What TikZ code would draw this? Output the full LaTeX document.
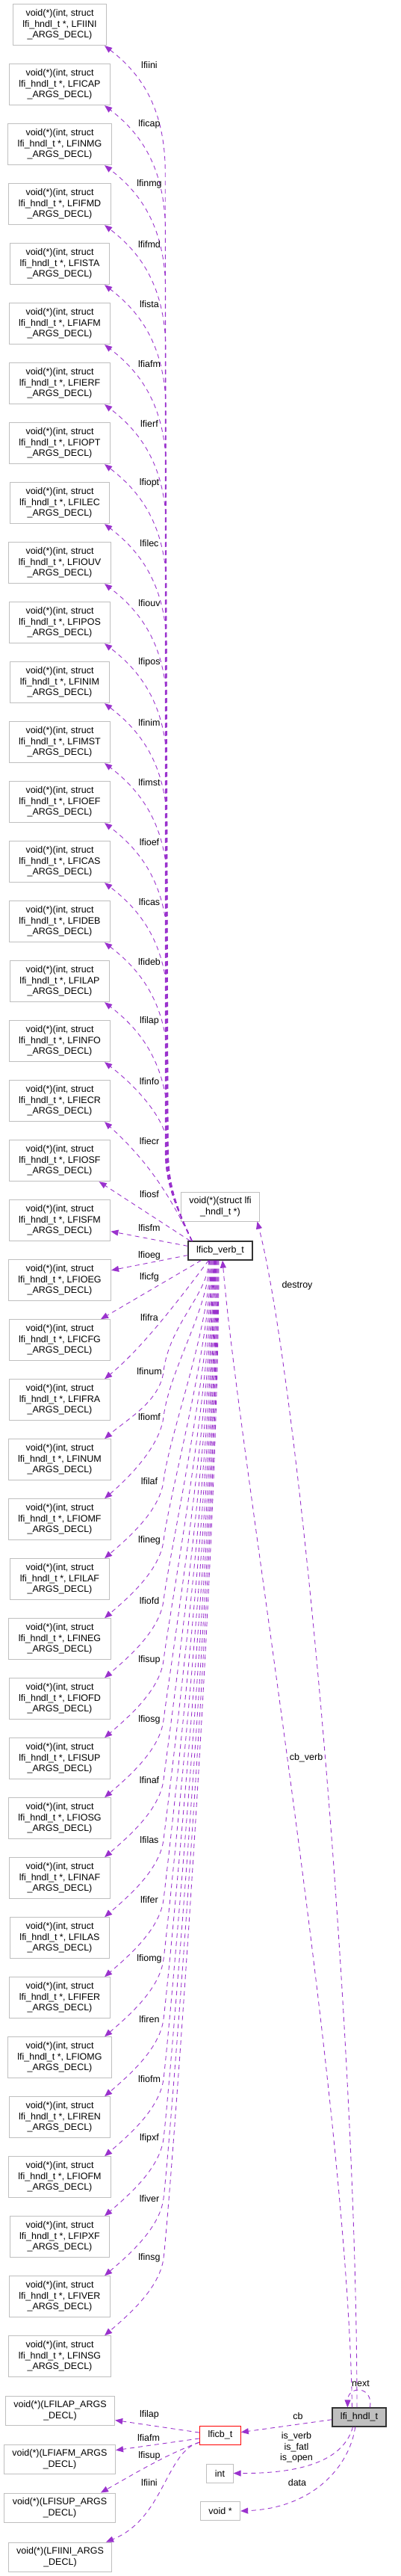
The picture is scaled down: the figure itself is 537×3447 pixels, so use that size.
\documentclass[tikz,border=0pt]{standalone}
\usepackage{fontspec}
\setmainfont{Liberation Sans}
\usepackage{tikz}
\usetikzlibrary{arrows.meta}
\definecolor{edgeviolet}{HTML}{9A32CD}
\definecolor{boxgray}{HTML}{BFBFBF}

\begin{document}
\begin{tikzpicture}[
    x=1pt, y=-1pt,
    font=\fontsize{12.5}{14.5}\selectfont,
    box/.style={draw=boxgray, line width=1pt, fill=white, align=center, inner xsep=11pt, inner ysep=0pt, minimum height=25pt},
    fnbox/.style={box, inner xsep=13pt, minimum height=55pt},
    argbox/.style={box, minimum height=39pt},
    memberedge/.style={-{Triangle[length=10pt,width=8pt]}, edgeviolet, line width=0.9pt, dash pattern=on 6pt off 5pt},
    lbl/.style={inner sep=1pt},
]
    \useasboundingbox (0,0) rectangle (537,3447);

    \foreach \nm [count=\kk] in {INI,CAP,NMG,FMD,STA,AFM,ERF,OPT,LEC,OUV,POS,NIM,MST,OEF,CAS,DEB,LAP,NFO,ECR,OSF,SFM,OEG,CFG,FRA,NUM,OMF,LAF,NEG,OFD,SUP,OSG,NAF,LAS,FER,OMG,REN,OFM,PXF,VER,NSG} {
        \pgfmathsetmacro\yc{33.2+80*(\kk-1)}
        \node[fnbox] (f\kk) at (80,\yc) {void(*)(int, struct\\lfi\_hndl\_t *, LFI\nm\\\_ARGS\_DECL)};
    }

    \node[box, draw=black!80, line width=1.2pt] (vb) at (295,1673.5) {lficb\_verb\_t};
    \node[argbox] (dfn) at (295,1614.5) {void(*)(struct lfi\\\_hndl\_t *)};
    \node[box, draw=black!80, line width=1.2pt, fill=boxgray] (hndl) at (481,3234.5) {lfi\_hndl\_t};
    \node[box, draw=red] (cbt) at (295,3258.5) {lficb\_t};
    \node[box] (int) at (294.5,3309.5) {int};
    \node[box] (vptr) at (295,3360) {void *};

    \node[argbox] (a1) at (80.5,3225.5) {void(*)(LFILAP\_ARGS\\\_DECL)};
    \node[argbox] (a2) at (80,3290.5) {void(*)(LFIAFM\_ARGS\\\_DECL)};
    \node[argbox] (a3) at (80,3355.5) {void(*)(LFISUP\_ARGS\\\_DECL)};
    \node[argbox] (a4) at (80.5,3421.5) {void(*)(LFIINI\_ARGS\\\_DECL)};

    \foreach \lo [count=\kk] in {ini,cap,nmg,fmd,sta,afm,erf,opt,lec,ouv,pos,nim,mst,oef,cas,deb,lap,nfo,ecr} {
        \pgfmathsetmacro\ybot{60.7+80*(\kk-1)}
        \pgfmathsetmacro\ylab{\ybot+26}
        \ifnum\kk<19
            \pgfmathsetmacro\ymid{min(\ybot+170,1540)}
            \pgfmathsetmacro\xb{221+0.25*\kk}
            \pgfmathsetmacro\yca{\ybot+80}
            \pgfmathsetmacro\ycb{\ybot+35}
            \draw[memberedge] (vb.161) .. controls (236,1615) and (\xb,1585) .. (\xb,1540) -- (\xb,\ymid) .. controls (\xb,\yca) and (185,\ycb) .. (f\kk.-25);
        \fi
        \node[lbl] at (200,\ylab) {lfi\lo};
    }

    \draw[memberedge] (vb.161) .. controls (232,1610) and (205,1560) .. (f19.-25);
    \draw[memberedge] (vb.162) -- (f20.-28);
    \draw[memberedge] (vb.172) -- (f21.-12);
    \draw[memberedge] (vb.188) -- (f22.11);
    \draw[memberedge] (vb.-153) -- (f23.27);
    \draw[memberedge] (vb.-140) .. controls (250,1725) and (195,1800) .. (f24.25);
    \node[lbl] at (200,1598) {lfiosf};
    \node[lbl] at (200,1643) {lfisfm};
    \node[lbl] at (200,1680) {lfioeg};
    \node[lbl] at (200,1709) {lficfg};
    \node[lbl] at (200,1763) {lfifra};

    \foreach \lo [count=\jj] in {num,omf,laf,neg,ofd,sup,osg,naf,las,fer,omg,ren,ofm,pxf,ver,nsg} {
        \pgfmathtruncatemacro\kk{\jj+24}
        \pgfmathsetmacro\ytop{5.7+80*(\kk-1)}
        \pgfmathsetmacro\ylab{\jj==1 ? 1835 : (\jj==2 ? 1896 : \ytop-104)}
        \pgfmathsetmacro\sdx{28+0.9*(\jj-1)}
        \pgfmathsetmacro\xsa{252+\sdx}
        \pgfmathsetmacro\ysa{1686+0.3*(\ylab-1686)}
        \pgfmathsetmacro\ysb{\ylab-64}
        \pgfmathsetmacro\ysc{\ylab+40}
        \pgfmathsetmacro\ysd{\ytop-28}
        \draw[memberedge] ([xshift=\sdx pt]vb.south west) .. controls (\xsa,\ysa) and (227,\ysb) .. (219,\ylab) .. controls (214,\ysc) and (172,\ysd) .. (f\kk.25);
        \node[lbl] at (200,\ylab) {lfi\lo};
    }

    \draw[memberedge] (hndl.103) .. controls (478,2700) and (400,1850) .. (dfn.-22);
    \node[lbl] at (398,1720) {destroy};
    \draw[memberedge] (hndl.126) .. controls (465,2800) and (320,1950) .. (vb.-77);
    \node[lbl] at (410,2352) {cb\_verb};
    \draw[memberedge] (hndl.42) .. controls (500,3192) and (466,3192) .. (hndl.140);
    \node[lbl] at (483,3189) {next};
    \draw[memberedge] (hndl.185) -- (cbt.8);
    \node[lbl] at (399,3233) {cb};
    \draw[memberedge] (hndl.-123) .. controls (462,3285) and (420,3310) .. (int.east);
    \node[lbl, align=center] at (397,3275) {is\_verb\\is\_fatl\\is\_open};
    \draw[memberedge] (hndl.-112) .. controls (468,3300) and (420,3356) .. (vptr.east);
    \node[lbl] at (398,3322) {data};

    \draw[memberedge] (cbt.173) -- (a1.-10);
    \node[lbl] at (200,3231) {lfilap};
    \draw[memberedge] (cbt.189) -- (a2.9);
    \node[lbl] at (199,3262) {lfiafm};
    \draw[memberedge] (cbt.199) .. controls (225,3283) and (180,3310) .. (a3.20);
    \node[lbl] at (200,3286) {lfisup};
    \draw[memberedge] (cbt.199) .. controls (222,3280) and (220,3370) .. (a4.18);
    \node[lbl] at (200,3322) {lfiini};
\end{tikzpicture}
\end{document}
